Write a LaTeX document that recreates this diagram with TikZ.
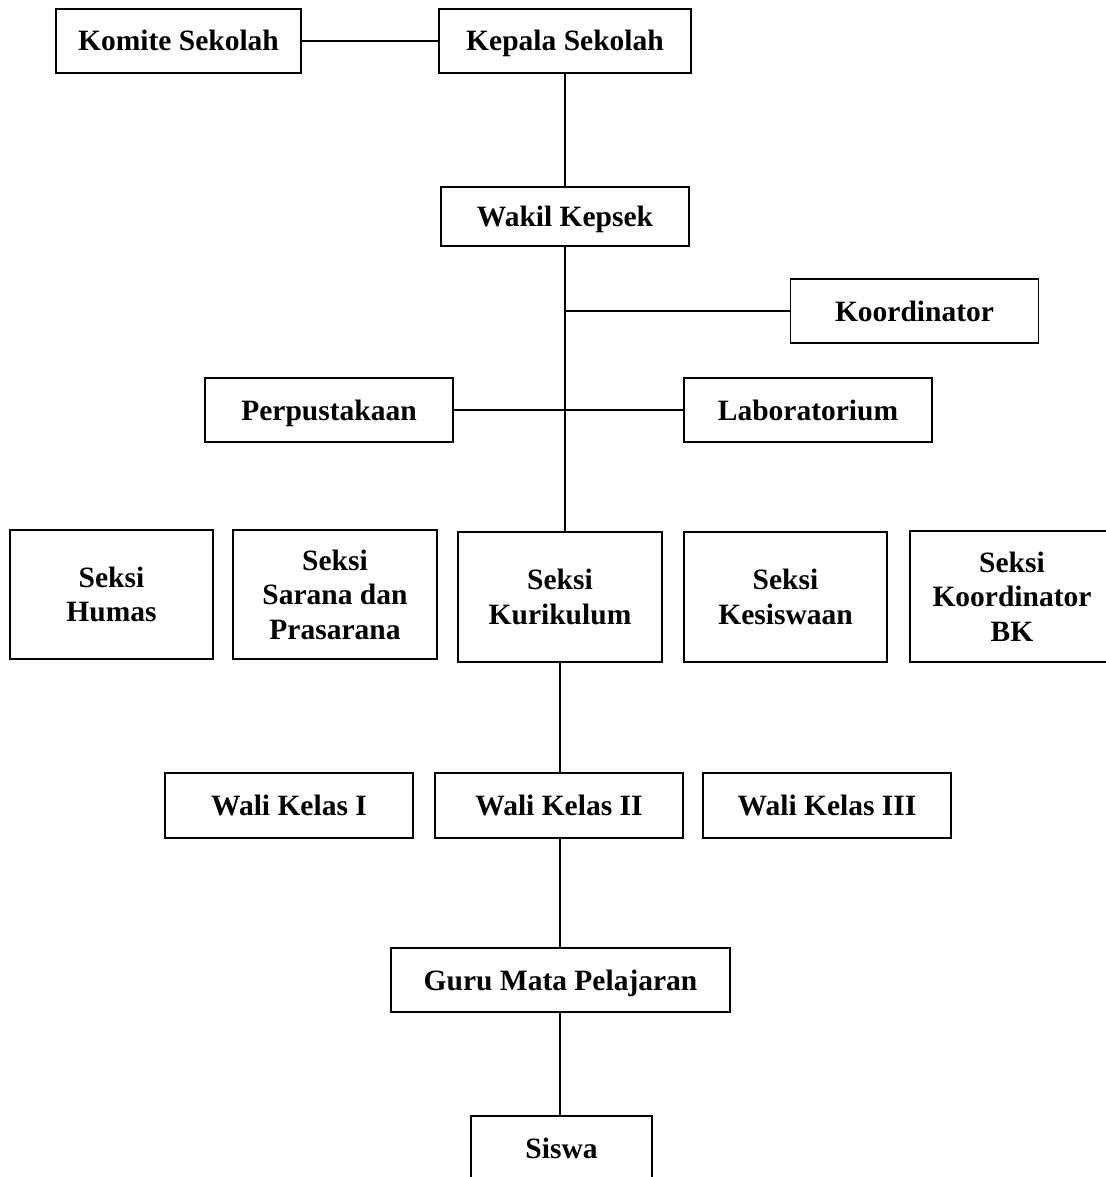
\documentclass[tikz,border=0pt]{standalone}
\usepackage{fontspec}
\setmainfont{Liberation Serif}
\usepackage{tikz}

\begin{document}
\begin{tikzpicture}[x=1pt, y=-1pt,
    kotak/.style={shape=rectangle, draw=black, line width=1.8pt, align=center, inner sep=0pt,
        font=\bfseries\fontsize{29.5}{34.5}\selectfont},
    sebaris/.style={kotak, text height=20pt, text depth=0pt},
    garis/.style={draw=black, line width=1.8pt}]
    \useasboundingbox (0,0) rectangle (1105,1177);
    \node[sebaris, minimum width=245, minimum height=64] at (178.5,41) (komite) {Komite Sekolah};
    \node[sebaris, minimum width=252, minimum height=64] at (565,41) (kepala) {Kepala Sekolah};
    \node[sebaris, minimum width=248, minimum height=59] at (565,216.5) (wakil) {Wakil Kepsek};
    \node[sebaris, minimum width=248, minimum height=64] at (914.5,311) (koord) {Koordinator};
    \node[sebaris, minimum width=248, minimum height=64] at (329,410) (perpus) {Perpustakaan};
    \node[sebaris, minimum width=248, minimum height=64] at (808,410) (lab) {Laboratorium};
    \node[kotak, minimum width=203, minimum height=129] at (111.5,594.5) (humas) {Seksi\\Humas};
    \node[kotak, minimum width=204, minimum height=129] at (335,594.5) (sarana) {Seksi\\Sarana dan\\Prasarana};
    \node[kotak, minimum width=204, minimum height=130] at (560,597) (kurikulum) {Seksi\\Kurikulum};
    \node[kotak, minimum width=203, minimum height=130] at (785.5,597) (kesiswaan) {Seksi\\Kesiswaan};
    \node[kotak, minimum width=204, minimum height=131] at (1012,596.5) (bk) {Seksi\\Koordinator\\BK};
    \node[sebaris, minimum width=248, minimum height=65] at (289,805.5) (wali1) {Wali Kelas I};
    \node[sebaris, minimum width=248, minimum height=65] at (559,805.5) (wali2) {Wali Kelas II};
    \node[sebaris, minimum width=248, minimum height=65] at (827,805.5) (wali3) {Wali Kelas III};
    \node[sebaris, minimum width=339, minimum height=64] at (560.5,980) (guru) {Guru Mata Pelajaran};
    \node[sebaris, minimum width=181, minimum height=64] at (561.5,1148) (siswa) {Siswa};
    \coordinate (cabang) at (wakil.south |- koord.west);
    \path [garis] (komite.east) -- (kepala.west);
    \path [garis] (kepala.south) -- (wakil.north);
    \path [garis] (wakil.south) -- (wakil.south |- kurikulum.north);
    \path [garis] (cabang) -- (koord.west);
    \path [garis] (perpus.east) -- (lab.west);
    \path [garis] (kurikulum.south) -- (kurikulum.south |- wali2.north);
    \path [garis] (kurikulum.south |- wali2.south) -- (kurikulum.south |- guru.north);
    \path [garis] (kurikulum.south |- guru.south) -- (kurikulum.south |- siswa.north);
\end{tikzpicture}
\end{document}
